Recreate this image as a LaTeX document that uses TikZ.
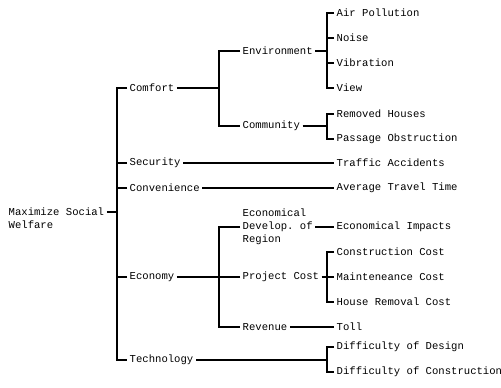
\documentclass[tikz,border=0pt]{standalone}
\usepackage{fontspec}
\setmonofont{Liberation Mono}
\begin{document}
\begin{tikzpicture}[x=1bp,y=-1bp,
  lbl/.style={anchor=west,inner xsep=2.5bp,inner ysep=1bp,font=\ttfamily\fontsize{10.6bp}{13bp}\selectfont},
  conn/.style={line width=1.2bp}]
\useasboundingbox (0,0) rectangle (501,387);
% coordinates of brackets
\coordinate (b0) at (117,0);
\coordinate (b1) at (219,0);
\coordinate (b2) at (327,0);
% nodes
\node[lbl] (root) at (6,212) {Maximize Social};
\node[lbl] (rootb) at (6,225) {Welfare};
\node[lbl] (comfort) at (127,88) {Comfort};
\node[lbl] (security) at (127,163) {Security};
\node[lbl] (convenience) at (127,188) {Convenience};
\node[lbl] (economy) at (127,277) {Economy};
\node[lbl] (technology) at (127,360) {Technology};
\node[lbl] (environment) at (240,51) {Environment};
\node[lbl] (community) at (240,126) {Community};
\node[lbl,align=left] (econdev) at (240,227) {Economical\\Develop. of\\Region};
\node[lbl] (projcost) at (240,277) {Project Cost};
\node[lbl] (revenue) at (240,327) {Revenue};
\node[lbl] (air) at (334,13) {Air Pollution};
\node[lbl] (noise) at (334,38) {Noise};
\node[lbl] (vibration) at (334,63) {Vibration};
\node[lbl] (view) at (334,88) {View};
\node[lbl] (removed) at (334,114) {Removed Houses};
\node[lbl] (passage) at (334,139) {Passage Obstruction};
\node[lbl] (traffic) at (334,163) {Traffic Accidents};
\node[lbl] (avgtime) at (334,188) {Average Travel Time};
\node[lbl] (econimp) at (334,227) {Economical Impacts};
\node[lbl] (constr) at (334,252) {Construction Cost};
\node[lbl] (maint) at (334,277) {Mainteneance Cost};
\node[lbl] (house) at (334,302) {House Removal Cost};
\node[lbl] (toll) at (334,327) {Toll};
\node[lbl] (design) at (334,347) {Difficulty of Design};
\node[lbl] (diffcon) at (334,372) {Difficulty of Construction};
% root bracket
\draw[conn] (root.east) -- (root.east -| b0);
\draw[conn] (comfort.west) -- (comfort.west -| b0) -- (technology.west -| b0) -- (technology.west);
\draw[conn] (security.west) -- (security.west -| b0);
\draw[conn] (convenience.west) -- (convenience.west -| b0);
\draw[conn] (economy.west) -- (economy.west -| b0);
% comfort
\draw[conn] (comfort.east) -- (comfort.east -| b1);
\draw[conn] (environment.west) -- (environment.west -| b1) -- (community.west -| b1) -- (community.west);
% environment
\draw[conn] (environment.east) -- (environment.east -| b2);
\draw[conn] (air.west) -- (air.west -| b2) -- (view.west -| b2) -- (view.west);
\draw[conn] (noise.west) -- (noise.west -| b2);
\draw[conn] (vibration.west) -- (vibration.west -| b2);
% community
\draw[conn] (community.east) -- (community.east -| b2);
\draw[conn] (removed.west) -- (removed.west -| b2) -- (passage.west -| b2) -- (passage.west);
% straight
\draw[conn] (security.east) -- (traffic.west);
\draw[conn] (convenience.east) -- (avgtime.west);
% economy
\draw[conn] (economy.east) -- (economy.east -| b1);
\draw[conn] (econdev.west) -- (econdev.west -| b1) -- (revenue.west -| b1) -- (revenue.west);
\draw[conn] (projcost.west) -- (projcost.west -| b1);
\draw[conn] (econdev.east) -- (econimp.west);
\draw[conn] (projcost.east) -- (projcost.east -| b2);
\draw[conn] (constr.west) -- (constr.west -| b2) -- (house.west -| b2) -- (house.west);
\draw[conn] (maint.west) -- (maint.west -| b2);
\draw[conn] (revenue.east) -- (toll.west);
% technology
\draw[conn] (technology.east) -- (technology.east -| b2);
\draw[conn] (design.west) -- (design.west -| b2) -- (diffcon.west -| b2) -- (diffcon.west);
\end{tikzpicture}
\end{document}
